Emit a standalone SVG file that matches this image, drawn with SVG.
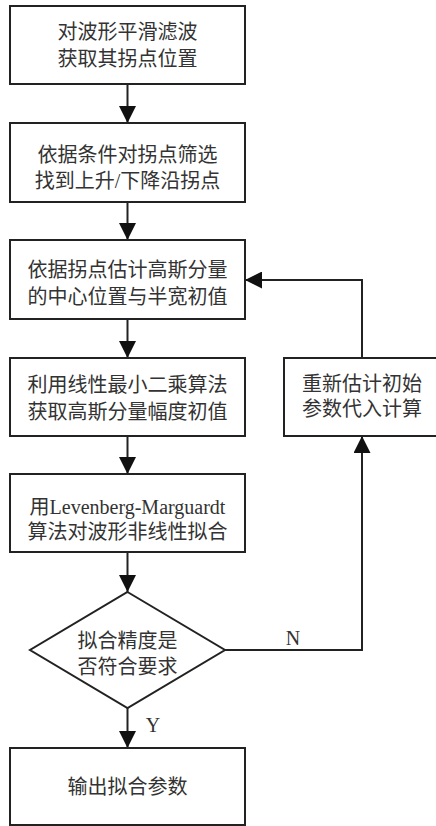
<svg xmlns="http://www.w3.org/2000/svg" width="436" height="826" viewBox="0 0 436 826">
<style>
.box{fill:#fff;stroke:#222;stroke-width:2}
.t{font-family:"Liberation Serif","Noto Sans CJK SC",serif;font-size:20px;fill:#333;text-anchor:middle}
.c{fill:none;stroke:#222;stroke-width:2}
</style>
<defs>
<marker id="ah" markerWidth="17" markerHeight="17" viewBox="0 0 17 17" refX="17" refY="8.5" orient="auto" markerUnits="userSpaceOnUse">
<path d="M0,0 L17,8.5 L0,17 Z" fill="#111"/>
</marker>
</defs>
<rect width="436" height="826" fill="#fff"/>
<g id="connectors">
<line class="c" x1="127.5" y1="84" x2="127.5" y2="123" marker-end="url(#ah)"/>
<line class="c" x1="127.5" y1="202" x2="127.5" y2="240" marker-end="url(#ah)"/>
<line class="c" x1="127.5" y1="319" x2="127.5" y2="358" marker-end="url(#ah)"/>
<line class="c" x1="127.5" y1="436" x2="127.5" y2="474" marker-end="url(#ah)"/>
<line class="c" x1="127.5" y1="552" x2="127.5" y2="592" marker-end="url(#ah)"/>
<line class="c" x1="127.5" y1="708" x2="127.5" y2="748" marker-end="url(#ah)"/>
<polyline class="c" points="225,650 362,650 362,436" marker-end="url(#ah)"/>
<polyline class="c" points="362,358 362,280 245,280" marker-end="url(#ah)"/>
<text class="t" x="293" y="645">N</text>
<text class="t" x="153" y="732">Y</text>
</g>
<g id="n1">
<rect class="box" x="10" y="6" width="235" height="78"/>
<text class="t" x="127.5" y="39">对波形平滑滤波</text>
<text class="t" x="127.5" y="66">获取其拐点位置</text>
</g>
<g id="n2">
<rect class="box" x="10" y="123" width="235" height="79"/>
<text class="t" x="127.5" y="162">依据条件对拐点筛选</text>
<text class="t" x="127.5" y="188">找到上升/下降沿拐点</text>
</g>
<g id="n3">
<rect class="box" x="10" y="240" width="235" height="79"/>
<text class="t" x="127.5" y="277">依据拐点估计高斯分量</text>
<text class="t" x="127.5" y="304">的中心位置与半宽初值</text>
</g>
<g id="n4">
<rect class="box" x="10" y="358" width="235" height="78"/>
<text class="t" x="127.5" y="392">利用线性最小二乘算法</text>
<text class="t" x="127.5" y="419">获取高斯分量幅度初值</text>
</g>
<g id="n5">
<rect class="box" x="10" y="474" width="235" height="78"/>
<text class="t" x="127.5" y="514">用Levenberg-Marguardt</text>
<text class="t" x="127.5" y="539">算法对波形非线性拟合</text>
</g>
<g id="n6">
<polygon class="box" points="127.5,592 225,650 127.5,708 30,650"/>
<text class="t" x="127.5" y="648">拟合精度是</text>
<text class="t" x="127.5" y="674">否符合要求</text>
</g>
<g id="n7">
<rect class="box" x="10" y="748" width="235" height="77"/>
<text class="t" x="127.5" y="794">输出拟合参数</text>
</g>
<g id="n8">
<rect class="box" x="284" y="358" width="156" height="78"/>
<text class="t" x="362" y="391">重新估计初始</text>
<text class="t" x="362" y="416">参数代入计算</text>
</g>
</svg>
